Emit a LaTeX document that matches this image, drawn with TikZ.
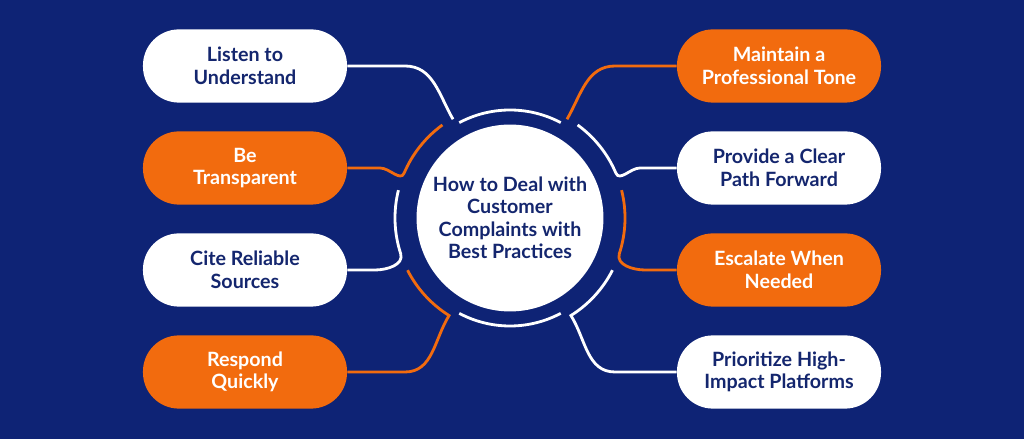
\documentclass[tikz,border=0pt]{standalone}
\usepackage{fontspec}
\setmainfont{Lato}
\usetikzlibrary{calc}
\definecolor{Navy}{RGB}{14,35,117}
\definecolor{TextNavy}{RGB}{20,38,110}
\definecolor{Orange}{RGB}{242,107,14}
\tikzset{
  box/.style={rounded corners=0.9cm, minimum width=5.1cm, minimum height=1.83cm,
    align=center, font=\bfseries\fontsize{14}{16}\selectfont, inner sep=0pt},
  whitebox/.style={box, fill=white, text=TextNavy},
  orangebox/.style={box, fill=Orange, text=white},
  wline/.style={draw=white, line width=2pt},
  oline/.style={draw=Orange, line width=2pt}
}
\begin{document}
\begin{tikzpicture}[x=0.025cm,y=0.025cm]
          \fill[Navy] (0,0) rectangle (1024,439);
          % center
          \coordinate (c) at (510,221);
          \node[circle, fill=white, minimum size=4.65cm, align=center, text=TextNavy,
            font=\bfseries\fontsize{14}{16}\selectfont] (hub) at (c)
            {How to Deal with\\Customer\\Complaints with\\Best Practices};
          % left boxes
          \node[whitebox] (listen) at (245,373) {Listen to\\Understand};
          \node[orangebox] (transparent) at (245,271) {Be\\Transparent};
          \node[whitebox] (cite) at (245,169) {Cite Reliable\\Sources};
          \node[orangebox] (respond) at (245,67) {Respond\\Quickly};
          % right boxes
          \node[orangebox] (tone) at (779,373) {Maintain a\\Professional Tone};
          \node[whitebox] (path) at (779,271) {Provide a Clear\\Path Forward};
          \node[orangebox] (escalate) at (779,169) {Escalate When\\Needed};
          \node[whitebox] (prioritize) at (779,67) {Prioritize High-\\Impact Platforms};
          % ring arcs
          \draw[wline] ($(c)+(62:108)$) arc[start angle=62, end angle=118, radius=108];
          \draw[wline] ($(c)+(242:108)$) arc[start angle=242, end angle=298, radius=108];
          % left connectors
          \draw[wline] ($(c)+(120:114)$) to[out=120, in=0] (405,373) -- (listen.east);
          \draw[oline] ($(c)+(126:115)$) arc[start angle=126, end angle=157, radius=115]
            to[out=247, in=0] (380,271) -- (transparent.east);
          \draw[wline] ($(c)+(166:115)$) arc[start angle=166, end angle=198, radius=115]
            to[out=288, in=0] (375,169) -- (cite.east);
          \draw[oline] ($(c)+(207:115)$) arc[start angle=207, end angle=238, radius=115]
            to[out=238, in=0] (405,67) -- (respond.east);
          % right connectors
          \draw[oline] ($(c)+(60:114)$) to[out=60, in=180] (615,373) -- (tone.west);
          \draw[wline] ($(c)+(54:115)$) arc[start angle=54, end angle=23, radius=115]
            to[out=-67, in=180] (640,271) -- (path.west);
          \draw[oline] ($(c)+(14:115)$) arc[start angle=14, end angle=-18, radius=115]
            to[out=-108, in=180] (645,169) -- (escalate.west);
          \draw[wline] ($(c)+(-27:115)$) arc[start angle=-27, end angle=-58, radius=115]
            to[out=-58, in=180] (615,67) -- (prioritize.west);
\end{tikzpicture}
\end{document}
